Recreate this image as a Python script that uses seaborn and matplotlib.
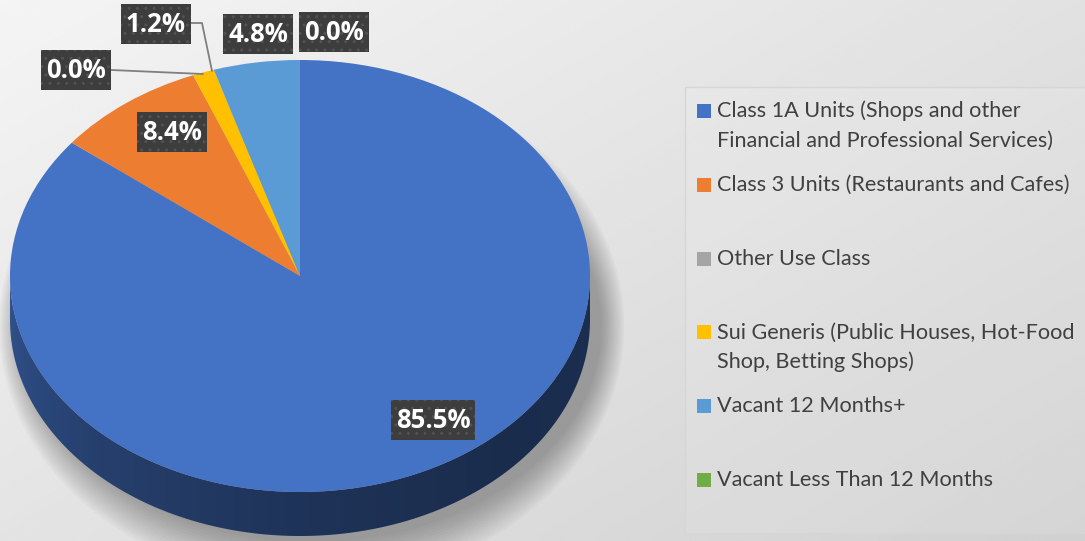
import numpy as np
import matplotlib
matplotlib.use("Agg")
import matplotlib.pyplot as plt
import seaborn as sns
from matplotlib.patches import Rectangle, Ellipse, Polygon
import matplotlib.colors as mcolors

# ---------------- data ----------------
categories = [
    "Class 1A Units (Shops and other Financial and Professional Services)",
    "Class 3 Units (Restaurants and Cafes)",
    "Other Use Class",
    "Sui Generis (Public Houses, Hot-Food Shop, Betting Shops)",
    "Vacant 12 Months+",
    "Vacant Less Than 12 Months",
]
shares = [85.5, 8.4, 0.0, 1.2, 4.8, 0.0]
colors = ["#4472C4", "#ED7D31", "#A5A5A5", "#FFC000", "#5B9BD5", "#70AD47"]

# ---------------- layout ----------------
sns.set_theme(style="white")
plt.rcParams['font.family'] = ['Lato', 'DejaVu Sans']

W, H = 1085, 541
fig = plt.figure(figsize=(W / 100, H / 100), dpi=100)

# background axes in pixel coordinates
bg = fig.add_axes([0, 0, 1, 1])
bg.set_xlim(0, W)
bg.set_ylim(H, 0)
bg.axis('off')
yy, xx = np.mgrid[0:1:200j, 0:1:400j]
grad = 0.958 - 0.075 * xx - 0.065 * yy
bg.imshow(grad, cmap='gray', vmin=0, vmax=1, extent=(0, W, H, 0),
          aspect='auto', zorder=0, interpolation='bicubic')

# legend panel
bg.add_patch(Rectangle((685, 87), 420, 446, facecolor=(1, 1, 1, 0.10),
                       edgecolor=(0.84, 0.84, 0.84), lw=1.0, zorder=1))

# pie axes: unit circle mapped to an ellipse
cx, cy, rx, ry, depth = 300, 276, 290, 216, 44
d = depth / ry
pax = fig.add_axes([(cx - rx) / W, (H - (cy + ry + depth)) / H,
                    2 * rx / W, (2 * ry + depth) / H])
pax.patch.set_alpha(0)

# soft shadow
for k in range(14):
    pax.add_patch(Ellipse((0.04, -d - 0.03), 2.0 + 0.012 * k, 2.0 + 0.03 * k,
                          facecolor='black', alpha=0.022, lw=0, zorder=0,
                          clip_on=False))

wedges, _ = pax.pie(shares, colors=colors, startangle=90, counterclock=False,
                    radius=1.0, center=(0, 0),
                    wedgeprops=dict(linewidth=0, edgecolor='none'))
for w in wedges:
    w.set_zorder(3)

# 3D side for the front half of the pie: shaded gradient clipped to each band
xs = np.linspace(-1, 1, 600)
tt = (180 - np.degrees(np.arccos(np.clip(xs, -1, 1)))) / 180
shade = np.interp(tt, [0, 0.25, 0.5, 0.75, 1.0], [0.72, 0.56, 0.45, 0.39, 0.41])
for w, col in zip(wedges, colors):
    t1, t2 = w.theta1, w.theta2
    if t2 - t1 <= 0:
        continue
    base = np.array(mcolors.to_rgb(col))
    for k in range(-2, 2):
        lo = max(t1, 180 + 360 * k)
        hi = min(t2, 360 + 360 * k)
        if hi <= lo:
            continue
        rr = np.radians(np.linspace(lo, hi, 400))
        band = np.vstack([np.column_stack([np.cos(rr), np.sin(rr)]),
                          np.column_stack([np.cos(rr[::-1]), np.sin(rr[::-1]) - d])])
        bp = Polygon(band, closed=True, facecolor='none', lw=0, zorder=1.9)
        pax.add_patch(bp)
        img = np.clip(shade[None, :, None] * base[None, None, :], 0, 1)
        im = pax.imshow(img, extent=(-1, 1, -1 - d, 0.05), aspect='auto',
                        origin='upper', zorder=2, interpolation='bilinear')
        im.set_clip_path(bp)

pax.set_xlim(-1, 1)
pax.set_ylim(-1 - d, 1)
pax.set_aspect('auto')
pax.axis('off')

# overlay axes for labels (above the pie)
ov = fig.add_axes([0, 0, 1, 1])
ov.set_xlim(0, W)
ov.set_ylim(H, 0)
ov.axis('off')
ov.patch.set_alpha(0)

label_xy = [(433, 420), (172, 132), (76, 70), (156, 24), (258, 34), (334, 32)]
for v, (lx, ly) in zip(shares, label_xy):
    txt = f"{v:.1f}%"
    bw = 70 if len(txt) <= 4 else 84
    ov.add_patch(Rectangle((lx - bw / 2, ly - 20), bw, 40, facecolor='#3d3d3d',
                           edgecolor='#525252', hatch='..', linewidth=0, zorder=5))
    ov.text(lx, ly + 1, txt, color='white', fontsize=18.5, fontweight='bold',
            family=['Open Sans', 'DejaVu Sans'],
            ha='center', va='center', zorder=6)

# leader lines
ov.plot([111, 203], [70, 74], color='#7f7f7f', lw=1.3, zorder=4)
ov.plot([191, 202, 212], [23, 23, 71], color='#7f7f7f', lw=1.3, zorder=4)

# legend
breaks = {0: "other ", 3: "Hot-Food "}
for i, (name, col) in enumerate(zip(categories, colors)):
    my = 111 + 73.8 * i
    ov.add_patch(Rectangle((697, my - 7), 14, 14, facecolor=col, lw=0, zorder=4))
    if i in breaks:
        p = name.index(breaks[i]) + len(breaks[i])
        lines = [name[:p].rstrip(), name[p:]]
    else:
        lines = [name]
    for j, ln in enumerate(lines):
        ov.text(717, my + 29.5 * j, ln, fontsize=15.6, color='#404040',
                ha='left', va='center', zorder=4)

fig.savefig("out.png", dpi=100)
